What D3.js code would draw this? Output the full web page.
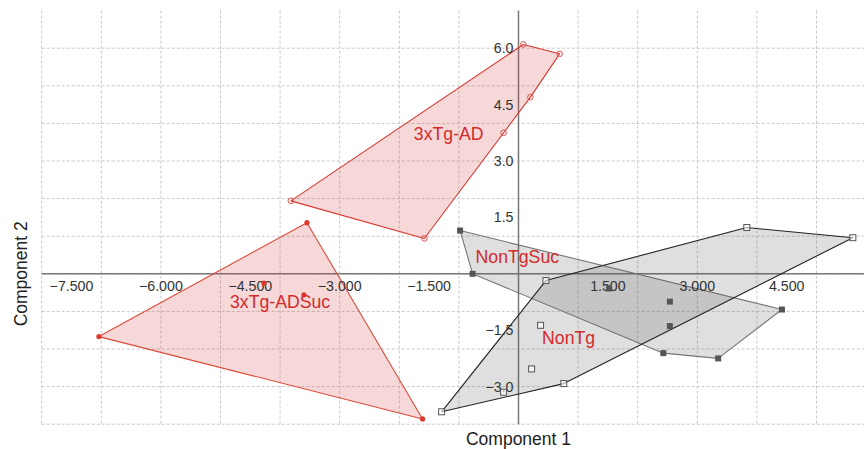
<!DOCTYPE html>
<html>
<head>
<meta charset="utf-8">
<script src="https://cdn.jsdelivr.net/npm/d3@7"></script>
<style>
  html, body { margin: 0; padding: 0; background: #fff; }
  svg { display: block; font-family: "Liberation Sans", Arial, sans-serif; }
</style>
</head>
<body>
<svg id="chart" width="864" height="449"></svg>
<script>
// ---- data (Component 1, Component 2) ----
const groups = ["3xTg-AD", "3xTg-ADSuc", "NonTgSuc", "NonTg"];
const tgAD = [[0.08, 6.10], [0.69, 5.85], [0.20, 4.70], [-0.25, 3.75], [-1.58, 0.94], [-3.82, 1.94]];
const tgADSuc = [[-3.55, 1.36], [-7.04, -1.67], [-1.61, -3.86], [-4.27, -0.25], [-3.60, -0.56]];
const nonTgSuc = [[-0.98, 1.15], [-0.77, 0.00], [1.52, -0.39], [2.54, -0.74], [2.54, -1.39], [4.42, -0.95], [3.35, -2.25], [2.43, -2.11]];
const nonTg = [[0.46, -0.18], [3.83, 1.23], [5.61, 0.96], [-1.29, -3.67], [0.76, -2.92], [0.37, -1.37], [0.22, -2.53], [-0.25, -3.15]];
const labelPos = [[-1.17, 3.55], [-4.00, -0.92], [-0.02, 0.30], [0.84, -1.88]];
const xTicks = [-7.5, -6, -4.5, -3, -1.5, 1.5, 3, 4.5];
const yTicks = [6, 4.5, 3, 1.5, -1.5, -3];
const xDomain = [-8, 5.8];
const yDomain = [-4, 7];

const svg = d3.select("#chart");
const x = d3.scaleLinear().domain(xDomain).range([41.7, 41.7 + 13.8 * 59.6]);
const y = d3.scaleLinear().domain(yDomain).range([273.8 + 4 * 37.6, 273.8 - 7 * 37.6]);

// grid
const grid = svg.append("g").attr("stroke", "#c9c9c9").attr("stroke-width", 1).attr("stroke-dasharray", "3,2");
d3.range(-8, 6).forEach(v => {
  grid.append("line").attr("x1", x(v)).attr("x2", x(v)).attr("y1", y(7)).attr("y2", y(-4));
});
d3.range(-4, 7).forEach(v => {
  grid.append("line").attr("x1", x(-8)).attr("x2", x(5.8)).attr("y1", y(v)).attr("y2", y(v));
});

// axes lines through origin
svg.append("line").attr("x1", x(-8)).attr("x2", x(5.8)).attr("y1", y(0)).attr("y2", y(0))
  .attr("stroke", "#777").attr("stroke-width", 1.5);
svg.append("line").attr("x1", x(0)).attr("x2", x(0)).attr("y1", y(7)).attr("y2", y(-4))
  .attr("stroke", "#777").attr("stroke-width", 1.5);

// polygons
const poly = (pts, fill, op, stroke) => {
  const hull = d3.polygonHull(pts.map(p => [x(p[0]), y(p[1])]));
  svg.append("path").attr("d", "M" + hull.join("L") + "Z")
    .attr("fill", fill).attr("fill-opacity", op)
    .attr("stroke", stroke).attr("stroke-width", 1.1).attr("stroke-linejoin", "round");
};
poly(tgAD, "#d23c3c", 0.2, "#d9362e");
poly(tgADSuc, "#d23c3c", 0.2, "#dc4a3a");
poly(nonTgSuc, "#555", 0.19, "#777");
poly(nonTg, "#555", 0.19, "#222");

// axis tick labels
const fmtX = d3.format(".3f");
const fmtY = d3.format(".1f");
svg.append("g").selectAll("text").data(xTicks).join("text")
  .attr("x", d => x(d)).attr("y", y(0) + 17)
  .attr("text-anchor", "middle").attr("font-size", 14.2).attr("fill", "#333")
  .text(d => fmtX(d));
svg.append("g").selectAll("text").data(yTicks).join("text")
  .attr("x", x(0) - 5).attr("y", d => y(d) + 5)
  .attr("text-anchor", "end").attr("font-size", 14.2).attr("fill", "#333")
  .text(d => fmtY(d));

// markers
svg.append("g").selectAll("circle").data(tgAD).join("circle")
  .attr("cx", d => x(d[0])).attr("cy", d => y(d[1])).attr("r", 2.8)
  .attr("fill", "none").attr("stroke", "#e05050").attr("stroke-width", 1);
svg.append("g").selectAll("circle").data(tgADSuc).join("circle")
  .attr("cx", d => x(d[0])).attr("cy", d => y(d[1])).attr("r", 2.6)
  .attr("fill", "#dc3a30");
svg.append("g").selectAll("rect").data(nonTgSuc).join("rect")
  .attr("x", d => x(d[0]) - 3).attr("y", d => y(d[1]) - 3).attr("width", 6).attr("height", 6)
  .attr("fill", "#555");
svg.append("g").selectAll("rect").data(nonTg).join("rect")
  .attr("x", d => x(d[0]) - 3).attr("y", d => y(d[1]) - 3).attr("width", 6).attr("height", 6)
  .attr("fill", "#fff").attr("fill-opacity", 0.6).attr("stroke", "#555").attr("stroke-width", 1);

// group labels
svg.append("g").selectAll("text").data(groups).join("text")
  .attr("x", (d, i) => x(labelPos[i][0])).attr("y", (d, i) => y(labelPos[i][1]))
  .attr("text-anchor", "middle").attr("font-size", 17.7).attr("fill", "#d42a2a")
  .text(d => d);

// axis titles
svg.append("text").attr("x", x(0)).attr("y", 445)
  .attr("text-anchor", "middle").attr("font-size", 17.5).attr("fill", "#222")
  .text("Component 1");
svg.append("text").attr("transform", `translate(27, ${y(0)}) rotate(-90)`)
  .attr("text-anchor", "middle").attr("font-size", 17.5).attr("fill", "#222")
  .text("Component 2");
</script>
</body>
</html>
